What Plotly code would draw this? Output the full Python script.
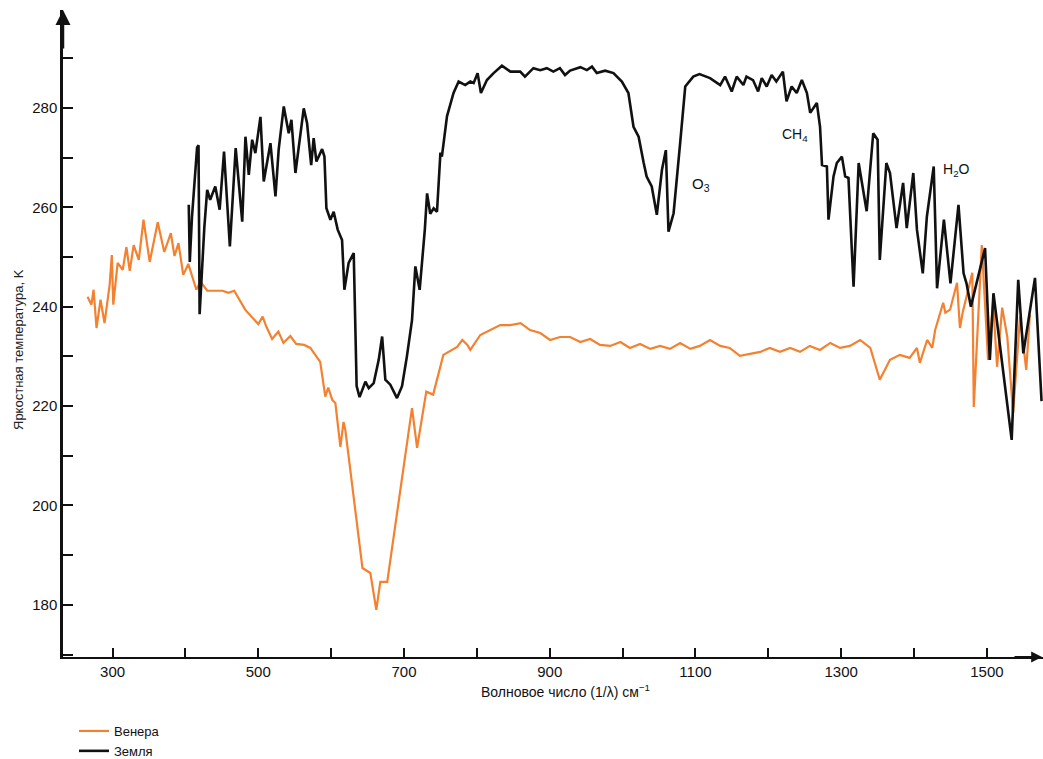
import plotly.graph_objects as go

# Venus (orange) – wavenumber (cm^-1) and brightness temperature (K)
venus_wn = [265.7, 271, 274, 278, 283.5, 289, 296, 299, 301, 307, 314, 319, 323.6, 329, 336,
            342.5, 351, 362, 371, 380, 385, 390.5, 397, 404, 415, 420.7, 430, 451, 459, 467,
            482, 492, 500, 506, 511, 519, 527.6, 534.5, 544, 552, 563, 571.5, 580, 585, 592,
            596, 601.7, 605.8, 612.7, 617, 619.5, 643, 653.8, 662, 667.5, 677, 711, 718,
            730.6, 740, 754, 773, 780, 787, 791, 804.7, 832, 846, 860, 873, 887, 900.6, 914,
            928, 942, 955.5, 969, 983, 997, 1010, 1024, 1038, 1051.5, 1065, 1079, 1093, 1106,
            1120, 1134, 1147, 1161, 1175, 1189, 1202, 1216, 1230, 1243.5, 1257, 1271, 1285,
            1298.5, 1312, 1326, 1340, 1353, 1367, 1380.6, 1394, 1404, 1408, 1418, 1425, 1429,
            1440, 1443, 1449.5, 1459, 1463, 1467, 1480, 1482, 1493, 1501.6, 1508.5, 1514,
            1521, 1528, 1536, 1545.5, 1554, 1559]
venus_t = [242, 240.4, 243.4, 235.7, 241.4, 236.7, 244.4, 250.4, 240.4, 248.8, 247.4, 252,
           247.2, 252.4, 249.4, 257.5, 249, 257, 251, 254.8, 250.2, 252.8, 246.4, 248.6, 243.4,
           245, 243.2, 243.2, 242.8, 243.2, 239.4, 237.7, 236.5, 238, 236, 233.5, 235, 232.7,
           234.1, 232.5, 232.3, 231.7, 229.9, 228.9, 221.9, 223.7, 221.2, 220.6, 211.8, 216.8,
           215.2, 187.4, 186.4, 179, 184.6, 184.6, 219.6, 211.6, 222.9, 222.3, 230.3, 231.9,
           233.3, 232.3, 231.3, 234.3, 236.3, 236.3, 236.7, 235.3, 234.7, 233.3, 233.9, 233.9,
           232.9, 233.5, 232.3, 232.1, 232.9, 231.7, 232.5, 231.5, 232.1, 231.5, 232.7, 231.5,
           232.1, 233.3, 232.1, 231.7, 230.1, 230.5, 230.9, 231.7, 230.9, 231.7, 230.9, 232.1,
           231.3, 232.7, 231.7, 232.1, 233.3, 231.7, 225.3, 229.3, 230.3, 229.7, 231.7, 228.7,
           233.3, 231.7, 235.3, 240.8, 238.8, 239.4, 244.8, 235.7, 239, 246.8, 219.8, 252.4,
           229.3, 240.8, 227.9, 239.8, 233.9, 218.6, 238, 227.3, 238.4]

# Earth (black)
earth_wn = [404.6, 406, 409, 413, 416, 418, 419.5, 426, 429.9, 434, 441, 447, 453, 461, 469,
            478, 482.4, 487, 491.6, 496, 503, 507.5, 516.7, 523.6, 528, 535, 541.8, 545.5, 551,
            562.4, 567, 572.6, 576, 579.8, 587.6, 590.8, 593.5, 599, 603.5, 609, 615, 618.2,
            624, 631, 633, 635, 639, 647, 651.6, 658.4, 665.3, 670, 674.4, 681.2, 690.4, 697.3,
            704, 711, 715.6, 721.5, 728.6, 731.7, 736, 740.7, 745.3, 750, 752, 759, 768, 775,
            784, 791, 795.6, 801, 805.6, 813.8, 823, 834.4, 846, 859.5, 866, 877.6, 887, 896,
            905, 914, 921, 928, 942, 951, 958, 964.6, 976, 987.5, 999, 1008, 1015, 1022, 1029,
            1033, 1040, 1047, 1054, 1059.4, 1063, 1070, 1079, 1086, 1097, 1105.5, 1120, 1134,
            1140.6, 1149.8, 1156.6, 1165.8, 1170, 1179, 1186, 1191, 1197.8, 1204.6, 1211, 1220,
            1225, 1232, 1239, 1246, 1253, 1257.5, 1266.6, 1271, 1273.7, 1280.4, 1282.6, 1289.5,
            1294, 1301, 1305.5, 1310, 1317, 1324, 1335, 1344, 1350, 1353, 1362, 1367, 1376,
            1385, 1390, 1399, 1404, 1412, 1417.6, 1427, 1431.6, 1441, 1450, 1461, 1468, 1472,
            1478, 1497.5, 1504, 1509, 1534, 1543, 1550, 1566, 1575]
earth_t = [260.5, 249, 258, 266, 272, 272.5, 238.5, 256, 263.5, 261.5, 264.2, 259.5, 271.2,
           252.1, 271.9, 257.1, 274.2, 266.5, 273.6, 270.9, 278.2, 265.2, 272.9, 262.2, 271.6,
           280.3, 274.9, 277.6, 266.9, 279.9, 276.9, 268.5, 273.9, 269.2, 271.7, 270.2, 259.8,
           257.5, 259.1, 255.5, 253.4, 243.4, 248.8, 250.8, 235, 224, 221.8, 224.9, 223.6,
           224.6, 229.3, 234, 225.3, 224.3, 221.6, 224, 230, 237.3, 248.1, 243.4, 255.5, 262.8,
           258.7, 259.8, 259.1, 271, 270.2, 278.3, 283, 285.3, 284.6, 285.3, 285, 287, 283,
           285.6, 287, 288.5, 287.3, 287.3, 286.3, 288, 287.6, 288, 287.3, 288, 286.6, 287.5,
           288.2, 287.6, 288.3, 287, 287.5, 287, 285.3, 283, 276.2, 274.2, 268.9, 266.2, 264.2,
           258.5, 267.5, 271.5, 255.1, 258.8, 272.9, 284.3, 286.3, 286.8, 286, 284.6, 286.3,
           283.3, 286.3, 284.6, 286.3, 285.6, 283.3, 286, 284.3, 286.6, 285.3, 287.3, 281.3,
           284.3, 283, 285.6, 283, 279, 281, 276.2, 268.5, 268.2, 257.5, 266.2, 268.9, 270.2,
           266.2, 265.9, 244, 268.9, 259.2, 274.9, 273.6, 249.4, 268.9, 266.9, 255.8, 264.9,
           255.8, 266.9, 255.5, 246.7, 258.1, 268.2, 243.7, 257.5, 244.7, 260.5, 246.7, 244.7,
           240, 251.8, 229.3, 242.7, 213.2, 245.4, 230.6, 245.8, 221]

x_tick_vals = [300, 500, 700, 900, 1100, 1300, 1500]
y_tick_vals = [180, 200, 220, 240, 260, 280]

FONT = "Liberation Sans, Arial, sans-serif"

fig = go.Figure()
fig.add_trace(go.Scatter(x=venus_wn, y=venus_t, mode="lines", name="Венера",
                         line=dict(color="#f4812f", width=2.2)))
fig.add_trace(go.Scatter(x=earth_wn, y=earth_t, mode="lines", name="Земля",
                         line=dict(color="#111111", width=2.6)))

fig.update_xaxes(range=[232, 1577], showgrid=False, zeroline=False,
                 showline=True, linecolor="#111", linewidth=1.8,
                 tickvals=x_tick_vals, ticks="inside", ticklen=9, tickcolor="#111", tickwidth=1.5,
                 minor=dict(dtick=100, tick0=300, ticks="inside", ticklen=9, tickcolor="#111", tickwidth=1.5),
                 tickfont=dict(family=FONT, size=15, color="#111"))
fig.update_yaxes(range=[169.5, 299.7], showgrid=False, zeroline=False,
                 showline=True, linecolor="#111", linewidth=2.5,
                 tickvals=y_tick_vals, ticks="inside", ticklen=10, tickcolor="#111", tickwidth=1.5,
                 minor=dict(dtick=10, tick0=180, ticks="inside", ticklen=10, tickcolor="#111", tickwidth=1.5),
                 tickfont=dict(family=FONT, size=15, color="#111"))

# axis arrows
fig.add_annotation(xref="paper", yref="paper", x=0, y=1.0, ax=0, ay=40, text="",
                   showarrow=True, arrowhead=2, arrowsize=1.2, arrowwidth=2.5, arrowcolor="#111")
fig.add_annotation(xref="paper", yref="paper", x=1.0, y=0, ax=-30, ay=0, text="",
                   showarrow=True, arrowhead=2, arrowsize=1.2, arrowwidth=1.8, arrowcolor="#111")

# axis titles
fig.add_annotation(xref="paper", yref="paper", x=(565 - 63) / 980, y=-(691 - 657) / 647,
                   text="Волновое число (1/λ) см<sup>−1</sup>", showarrow=False,
                   font=dict(family=FONT, size=14, color="#111"), xanchor="center", yanchor="middle")
fig.add_annotation(xref="paper", yref="paper", x=-(63 - 18) / 980, y=(657 - 350) / 647,
                   text="Яркостная температура, K", textangle=-90, showarrow=False,
                   font=dict(family=FONT, size=13, color="#222"), xanchor="center", yanchor="middle")

# band labels
fig.add_annotation(x=1092, y=264.5, text="O<sub>3</sub>", showarrow=False,
                   font=dict(family=FONT, size=15, color="#111"), xanchor="left")
fig.add_annotation(x=1216, y=274.5, text="CH<sub>4</sub>", showarrow=False,
                   font=dict(family=FONT, size=14, color="#111"), xanchor="left")
fig.add_annotation(x=1437, y=267.5, text="H<sub>2</sub>O", showarrow=False,
                   font=dict(family=FONT, size=14, color="#111"), xanchor="left")

fig.update_layout(
    width=1043, height=759,
    margin=dict(l=63, r=0, t=10, b=102, autoexpand=False),
    paper_bgcolor="white", plot_bgcolor="white",
    showlegend=True,
    legend=dict(x=74 / 1043, y=(759 - 716) / 759, xref="container", yref="container",
                xanchor="left", yanchor="top",
                font=dict(family=FONT, size=13, color="#111"), bgcolor="rgba(0,0,0,0)",
                tracegroupgap=0, itemwidth=30),
)

fig.write_html("out.html", config={"displayModeBar": False},
               post_script="document.body.style.margin='0';document.body.style.overflow='hidden';")
